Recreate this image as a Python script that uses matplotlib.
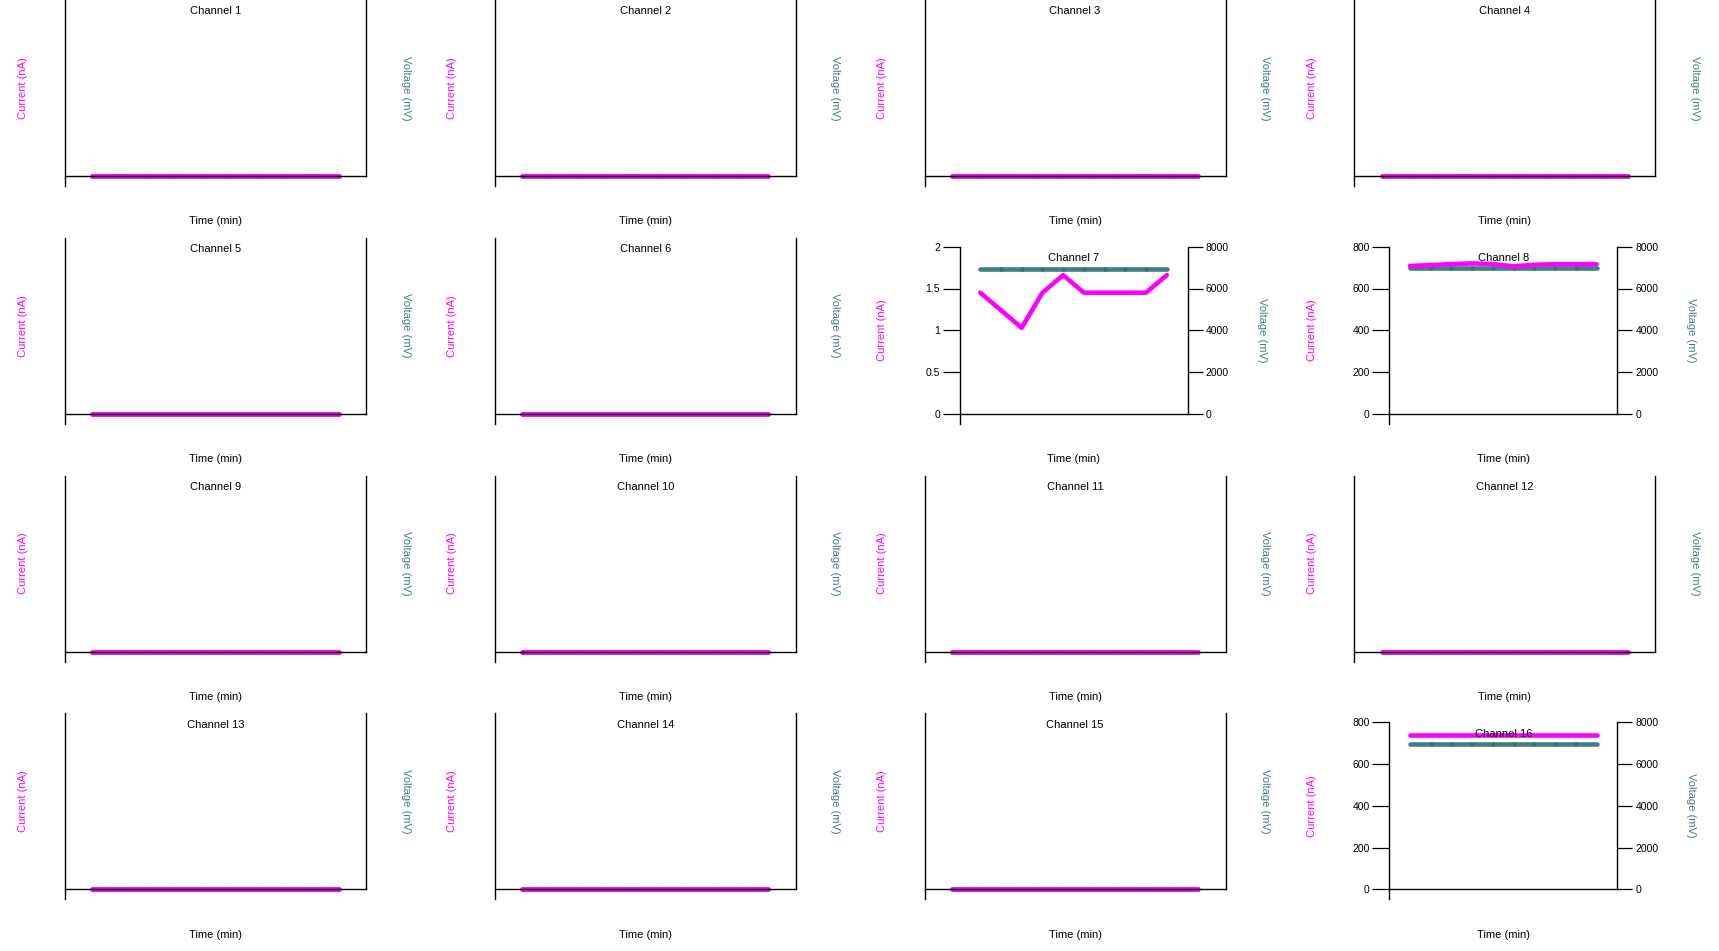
import matplotlib
matplotlib.use("Agg")
import matplotlib.pyplot as plt

plt.rcParams['font.family'] = ['Liberation Sans', 'DejaVu Sans']

# sample index along the time axis (10 readings per channel)
time_min = [0, 1, 2, 3, 4, 5, 6, 7, 8, 9]

# channels with no signal (current and voltage both zero)
zero_trace = [0, 0, 0, 0, 0, 0, 0, 0, 0, 0]

ch7_current = [1.45, 1.24, 1.03, 1.45, 1.66, 1.45, 1.45, 1.45, 1.45, 1.66]
ch7_voltage = [6950, 6950, 6950, 6950, 6950, 6950, 6950, 6950, 6950, 6950]

ch8_current = [708, 712, 717, 720, 717, 706, 714, 716, 716, 716]
ch8_voltage = [6970, 6970, 6970, 6970, 6970, 6970, 6970, 6970, 6970, 6970]

ch16_current = [740, 740, 740, 740, 740, 740, 740, 740, 740, 740]
ch16_voltage = [6950, 6950, 6950, 6950, 6950, 6950, 6950, 6950, 6950, 6950]

# left axis limits / ticks for the channels that have a scale
ch7_current_ticks = [0, 0.5, 1, 1.5, 2]
big_current_ticks = [0, 200, 400, 600, 800]
voltage_ticks = [0, 2000, 4000, 6000, 8000]

channels = list(range(1, 17))
active = {
    7: (ch7_current, ch7_voltage, ch7_current_ticks),
    8: (ch8_current, ch8_voltage, big_current_ticks),
    16: (ch16_current, ch16_voltage, big_current_ticks),
}

MAGENTA = '#ff00ff'
TEAL = '#2f7575'
TEAL_TXT = '#408080'

W, H = 1719, 951
fig = plt.figure(figsize=(W / 100, H / 100), dpi=100)
cell_w, cell_h = W / 4, H / 4


def fx(x):
    return x / W


def fy(y):
    return 1 - y / H


for i, ch in enumerate(channels):
    r, c = divmod(i, 4)
    x0, y0 = c * cell_w, r * cell_h
    scaled = ch in active
    if scaled:
        left, right, top = x0 + 100, x0 + 328, y0 + 9
    else:
        left, right, top = x0 + 65, x0 + 366, y0
    bottom = y0 + 176
    h_px = bottom - top

    ax = fig.add_axes([fx(left), fy(bottom), (right - left) / W, h_px / H])
    ax2 = ax.twinx()

    if scaled:
        cur, volt, cticks = active[ch]
    else:
        cur, volt, cticks = zero_trace, zero_trace, None

    n = len(time_min)
    ax.set_xlim(time_min[0] - 1, time_min[-1] + 1)
    if scaled:
        ax.set_ylim(cticks[0], cticks[-1])
        ax2.set_ylim(voltage_ticks[0], voltage_ticks[-1])
        ax.set_yticks(cticks)
        ax.set_yticklabels(['%g' % v for v in cticks])
        ax2.set_yticks(voltage_ticks)
        ax2.set_yticklabels(['%g' % v for v in voltage_ticks])
    else:
        ax.set_ylim(0, 1)
        ax2.set_ylim(0, 1)
        ax.set_yticks([])
        ax2.set_yticks([])
    ax.set_xticks([])

    # voltage drawn as overlapping segments (gives the faint joints)
    for j in range(n - 1):
        ax2.plot(time_min[j:j + 2], volt[j:j + 2], color=TEAL, lw=3.3,
                 alpha=0.92, solid_capstyle='round', clip_on=False)
    ax.plot(time_min, cur, color=MAGENTA, lw=3.3, solid_capstyle='round',
            solid_joinstyle='round', clip_on=False)

    ax.set_zorder(ax2.get_zorder() + 1)
    ax.patch.set_visible(False)

    for s in ['top', 'right']:
        ax.spines[s].set_visible(False)
    for s in ['top', 'left', 'bottom']:
        ax2.spines[s].set_visible(False)
    for sp in [ax.spines['left'], ax.spines['bottom'], ax2.spines['right']]:
        sp.set_linewidth(1.0)
        sp.set_color('black')
    lo, hi = ax.get_ylim()
    ax.spines['left'].set_bounds(lo - (hi - lo) * 10 / h_px, hi)

    ax.tick_params(axis='y', direction='out', length=12, width=0.9,
                   labelsize=7.5, pad=2)
    ax2.tick_params(axis='y', direction='out', length=11, width=0.9,
                    labelsize=7.5, pad=2)

    cx = (left + right) / 2
    cy = (top + bottom) / 2
    fig.text(fx(cx), fy(top + 11.5), f'Channel {ch}', ha='center',
             va='center', fontsize=8)
    fig.text(fx(cx), fy(bottom + 45.5), 'Time (min)', ha='center',
             va='center', fontsize=8)
    fig.text(fx(x0 + 22.5), fy(cy), 'Current (nA)', rotation=90,
             ha='center', va='center', fontsize=8, color=MAGENTA)
    vx = x0 + (402 if scaled else 405.5)
    fig.text(fx(vx), fy(cy), 'Voltage (mV)', rotation=270,
             ha='center', va='center', fontsize=8, color=TEAL_TXT)

fig.savefig('out.png', dpi=100)
